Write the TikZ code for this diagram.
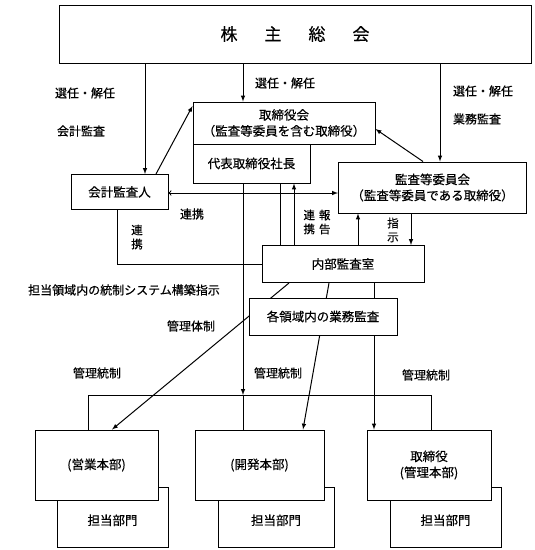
\documentclass[tikz,border=0pt]{standalone}
\usepackage{fontspec}
\setmainfont{Noto Sans CJK JP}[FakeBold=0.4]
\usepackage{tikz}
\usetikzlibrary{arrows}
\usetikzlibrary{positioning}
\tikzset{
    box/.style={draw=black, fill=white, inner sep=0pt, align=center,
        font=\fontsize{12.5}{16}\selectfont},
    backbox/.style={box, text height=16pt, text depth=0pt},
    lbl/.style={inner sep=0pt, align=center, font=\fontsize{12}{15}\selectfont},
    vlbl/.style={inner sep=0pt, align=center, font=\fontsize{11.5}{14}\selectfont},
}
\tikzset{>=latex}

\begin{document}
\begin{tikzpicture}[x=1pt, y=-1pt, line width=1pt]
\useasboundingbox (0,0) rectangle (535,550);

\node [box, minimum width=472pt, minimum height=58pt, font=\fontsize{17}{20}\selectfont] (sokai) at (295,34)
    {株\hspace{27pt}主\hspace{27pt}総\hspace{27pt}会};

\node [box, minimum width=182pt, minimum height=42pt] (torishimari) at (284,123)
    {取締役会\\（監査等委員を含む取締役）};
\node [box, minimum width=117pt, minimum height=39pt] (daihyo) at (251.5,163.5) {代表取締役社長};
\node [box, minimum width=97pt, minimum height=35pt] (kaikei) at (119.5,192) {会計監査人};
\node [box, minimum width=188pt, minimum height=51pt] (iinkai) at (432.5,187.5)
    {監査等委員会\\（監査等委員である取締役）};
\node [box, minimum width=162pt, minimum height=37pt] (naibu) at (343,264) {内部監査室};

% bottom
\node [backbox, minimum width=111pt, minimum height=60pt] (eigyotanto) at (112.5,517) {担当部門};
\node [backbox, minimum width=116pt, minimum height=60pt] (kaihatsutanto) at (276,517) {担当部門};
\node [backbox, minimum width=111pt, minimum height=60pt] (kanritanto) at (445.5,517) {担当部門};
\node [box, minimum width=123pt, minimum height=70pt] (eigyo) at (96.5,465) {(営業本部)};
\node [box, minimum width=129pt, minimum height=70pt] (kaihatsu) at (259.5,465) {(開発本部)};
\node [box, minimum width=124pt, minimum height=70pt] (kanri) at (429,465) {取締役\\(管理本部)};

\coordinate (barL) at (88,395);
\coordinate (barR) at (431,395);

\draw [->] (sokai.south -| 145,0) -- (kaikei.north -| 145,0);
\draw [->] (sokai.south -| 243,0) -- (torishimari.north -| 243,0);
\draw [->] (sokai.south -| 440,0) -- (iinkai.north -| 440,0);

\draw [->] (kaikei.north -| 156,0) -- (torishimari.west |- 0,106);
\draw [->] (iinkai.north -| 423,0) -- (torishimari.east |- 0,129);
\draw [to-latex] (kaikei.east |- 0,193) -- (iinkai.west |- 0,193);
\draw (kaikei.south -| 117,0) |- (naibu.west);

\draw (daihyo.south -| 280,0) -- (naibu.north -| 280,0);
\draw [->] (naibu.north -| 294,0) -- (daihyo.south -| 294,0);
\draw [->] (naibu.north -| 358,0) -- (iinkai.south -| 358,0);
\draw [->] (iinkai.south -| 411,0) -- (naibu.north -| 411,0);

\draw [->] (daihyo.south -| 243,0) -- (barL -| 243,0);
\draw (eigyo.north -| barL) |- (barR) -- (kanri.north -| barR);
\draw (barL -| 243,0) -- (kaihatsu.north -| 243,0);

\draw [->] (naibu.south -| 289,0) -- (eigyo.north -| 112,0);
\draw [->] (naibu.south -| 329,0) -- (kaihatsu.north -| 303,0);
\draw [->] (naibu.south -| 374,0) -- (kanri.north -| 374,0);

\node [box, minimum width=148pt, minimum height=37pt] (kakuryoiki) at (323,316.5) {各領域内の業務監査};

% labels
\node [lbl] (sennin1) at (85,93) {選任・解任};
\node [lbl] (kaikeikansa) at (81,131) {会計監査};
\node [lbl] (sennin2) at (285,83) {選任・解任};
\node [lbl] (sennin3) at (483,91) {選任・解任};
\node [lbl] (gyomu) at (477,119) {業務監査};
\node [lbl] (renkei1) at (192,214) {連携};
\node [vlbl] (renkei2) at (137,237) {連\\携};
\node [vlbl] (hokoku) at (317,222) {連\hspace{4pt}報\\携\hspace{4pt}告};
\node [vlbl] (shiji) at (393,230) {指\\示};
\node [lbl] (kochiku) at (124,290) {担当領域内の統制システム構築指示};
\node [lbl] (taisei) at (191,326) {管理体制};
\node [lbl] (tosei1) at (97,373) {管理統制};
\node [lbl] (tosei2) at (278,373) {管理統制};
\node [lbl] (tosei3) at (426,375) {管理統制};
\end{tikzpicture}
\end{document}
